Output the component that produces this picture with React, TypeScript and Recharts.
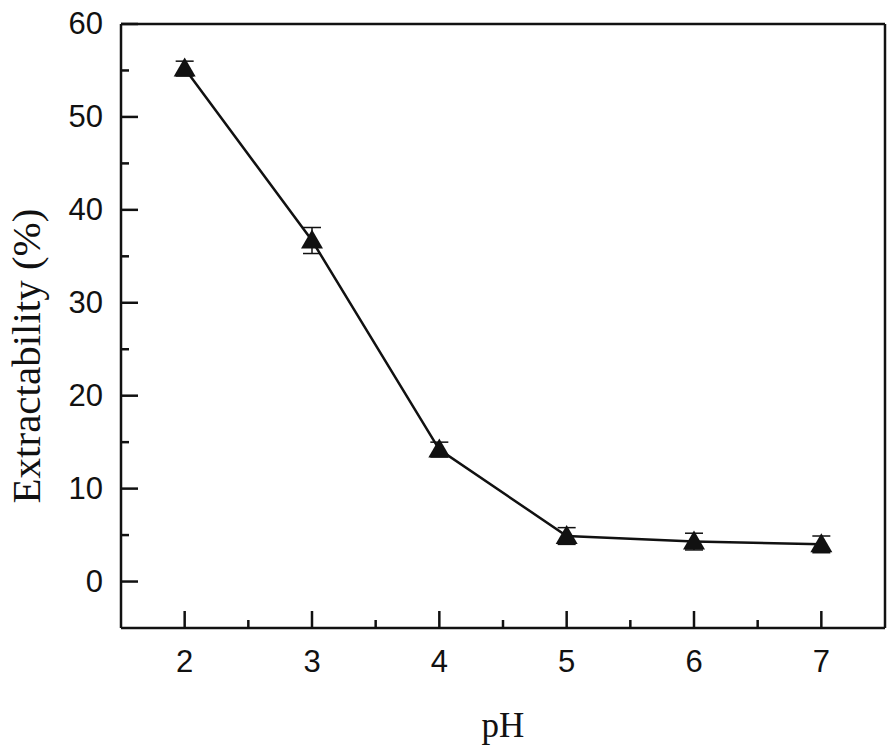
import { LineChart, Line, XAxis, YAxis, ErrorBar, ReferenceLine } from 'recharts';

const phValues = [2, 3, 4, 5, 6, 7];
const extractability = [55.2, 36.7, 14.2, 4.9, 4.3, 4.0];
const extractErr = [0.8, 1.4, 0.8, 0.9, 0.9, 0.9];

const xMajorTicks = [2, 3, 4, 5, 6, 7];
const xMinorTicks = [2.5, 3.5, 4.5, 5.5, 6.5];
const yMajorTicks = [0, 10, 20, 30, 40, 50, 60];
const yMinorTicks = [5, 15, 25, 35, 45, 55];

const data = phValues.map((ph, i) => ({ ph, value: extractability[i], err: extractErr[i] }));

const INK = '#111';
const tickFont = '"Liberation Sans", Arial, sans-serif';
const titleFont = '"Liberation Serif", "Times New Roman", serif';

function XTick({ x, y, payload }: any) {
  const major = xMajorTicks.includes(payload.value);
  return (
    <g>
      <line x1={x} y1={y} x2={x} y2={y - (major ? 17 : 8)} stroke={INK} strokeWidth={2.5} />
      {major && (
        <text x={x} y={y + 44} textAnchor="middle" fontFamily={tickFont} fontSize={31} fill={INK}>
          {payload.value}
        </text>
      )}
    </g>
  );
}

function YTick({ x, y, payload }: any) {
  const major = yMajorTicks.includes(payload.value);
  return (
    <g>
      <line x1={x} y1={y} x2={x + (major ? 17 : 8)} y2={y} stroke={INK} strokeWidth={2.5} />
      {major && (
        <text x={x - 18} y={y + 10} textAnchor="end" fontFamily={tickFont} fontSize={31} fill={INK}>
          {payload.value}
        </text>
      )}
    </g>
  );
}

// y title sits a bit below the plot's centre in the original
function YTitle({ viewBox }: any) {
  const cx = viewBox.x + 40;
  const cy = viewBox.y + viewBox.height / 2 + 30;
  return (
    <text
      x={cx}
      y={cy}
      transform={`rotate(-90, ${cx}, ${cy})`}
      textAnchor="middle"
      fontFamily={titleFont}
      fontSize={41}
      fill={INK}
    >
      Extractability (%)
    </text>
  );
}

function Triangle({ cx, cy }: any) {
  if (cx == null || cy == null) return null;
  return <polygon points={`${cx},${cy - 11} ${cx - 11},${cy + 8} ${cx + 11},${cy + 8}`} fill={INK} />;
}

export default function App() {
  return (
    <div style={{ position: 'absolute', left: 0, top: 0, background: '#fff' }}>
      <LineChart width={896} height={753} data={data} margin={{ top: 24, right: 11, left: 0, bottom: 0 }}>
        <XAxis
          dataKey="ph"
          type="number"
          domain={[1.5, 7.5]}
          ticks={[...xMajorTicks, ...xMinorTicks]}
          interval={0}
          height={125}
          tickSize={0}
          tickMargin={0}
          tickLine={false}
          tick={<XTick />}
          axisLine={{ stroke: INK, strokeWidth: 2.5 }}
          label={{ value: 'pH', position: 'insideBottom', offset: 16, fontFamily: titleFont, fontSize: 35, fill: INK }}
        />
        <YAxis
          type="number"
          domain={[-5, 60]}
          ticks={[...yMajorTicks, ...yMinorTicks]}
          interval={0}
          width={121}
          tickSize={0}
          tickMargin={0}
          tickLine={false}
          tick={<YTick />}
          axisLine={{ stroke: INK, strokeWidth: 2.5 }}
          label={<YTitle />}
        />
        <ReferenceLine y={60} stroke={INK} strokeWidth={2.5} />
        <ReferenceLine x={7.5} stroke={INK} strokeWidth={2.5} />
        <Line
          dataKey="value"
          stroke={INK}
          strokeWidth={2.5}
          dot={<Triangle />}
          activeDot={false}
          isAnimationActive={false}
        >
          <ErrorBar dataKey="err" direction="y" width={9} stroke={INK} strokeWidth={1.5} />
        </Line>
      </LineChart>
    </div>
  );
}
